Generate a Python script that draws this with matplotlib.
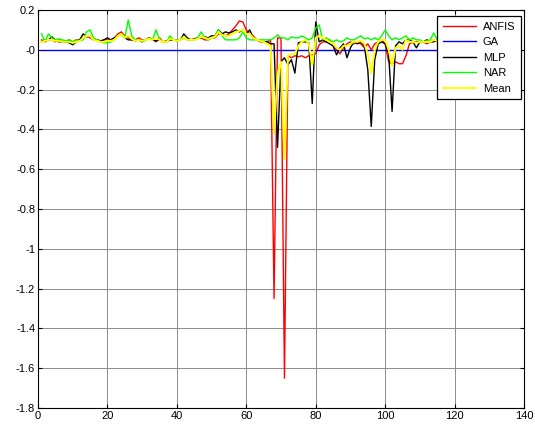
import numpy as np
import matplotlib
matplotlib.use("Agg")
import matplotlib.pyplot as plt
from matplotlib.ticker import FuncFormatter

plt.rcParams['font.family'] = ['Liberation Sans', 'DejaVu Sans']
plt.rcParams['axes.unicode_minus'] = False

# sample index
x = np.arange(1, 119)

anfis = [
    0.05, 0.04, 0.05, 0.05, 0.04, 0.05, 0.04, 0.04, 0.05, 0.04,
    0.05, 0.05, 0.06, 0.07, 0.06, 0.05, 0.05, 0.04, 0.05, 0.05,
    0.05, 0.06, 0.08, 0.09, 0.07, 0.06, 0.05, 0.05, 0.06, 0.05,
    0.05, 0.06, 0.05, 0.04, 0.06, 0.04, 0.04, 0.05, 0.05, 0.05,
    0.05, 0.06, 0.05, 0.05, 0.05, 0.06, 0.06, 0.05, 0.05, 0.06,
    0.06, 0.08, 0.08, 0.07, 0.08, 0.10, 0.12, 0.145, 0.14, 0.10,
    0.08, 0.07, 0.05, 0.04, 0.04, 0.04, 0.05, -1.25, 0.06, 0.06,
    -1.65, -0.03, -0.04, -0.03, -0.035, -0.03, -0.04, -0.03, -0.025, -0.02,
    0.025, 0.04, 0.04, 0.05, 0.02, 0.00, -0.02, 0.01, 0.03, 0.04,
    0.03, 0.04, 0.03, 0.01, 0.03, 0.00, 0.03, 0.04, 0.05, 0.03,
    -0.06, -0.07, -0.06, -0.07, -0.07, -0.03, 0.03, 0.04, 0.04, 0.04,
    0.04, 0.03, 0.04, 0.05, 0.04, 0.04, 0.04, 0.04,
]

ga = [0.0] * 118

mlp = [
    0.04, 0.05, 0.05, 0.065, 0.05, 0.04, 0.04, 0.04, 0.035, 0.025,
    0.04, 0.05, 0.08, 0.065, 0.07, 0.05, 0.05, 0.045, 0.05, 0.06,
    0.05, 0.06, 0.07, 0.08, 0.06, 0.05, 0.05, 0.045, 0.05, 0.04,
    0.05, 0.06, 0.05, 0.045, 0.05, 0.04, 0.045, 0.05, 0.05, 0.045,
    0.05, 0.08, 0.06, 0.05, 0.055, 0.06, 0.06, 0.065, 0.06, 0.07,
    0.07, 0.10, 0.08, 0.09, 0.085, 0.09, 0.10, 0.09, 0.10, 0.08,
    0.10, 0.06, 0.05, 0.045, 0.04, 0.04, 0.03, 0.03, -0.49, -0.06,
    -0.04, -0.075, -0.05, -0.117, 0.035, 0.04, 0.04, 0.035, -0.27, 0.14,
    0.04, 0.05, 0.04, 0.03, 0.02, -0.025, 0.01, 0.03, -0.04, 0.01,
    0.04, 0.03, 0.04, 0.02, -0.10, -0.385, -0.05, 0.03, 0.04, 0.03,
    -0.02, -0.31, 0.02, 0.04, 0.03, 0.05, 0.05, 0.04, 0.01, 0.04,
    0.04, 0.05, 0.04, 0.04, 0.05, 0.05, 0.04, 0.04,
]

nar = [
    0.08, 0.04, 0.08, 0.06, 0.05, 0.055, 0.05, 0.045, 0.05, 0.04,
    0.05, 0.045, 0.05, 0.09, 0.10, 0.06, 0.05, 0.04, 0.035, 0.035,
    0.04, 0.05, 0.07, 0.08, 0.06, 0.15, 0.07, 0.05, 0.05, 0.04,
    0.05, 0.06, 0.05, 0.10, 0.05, 0.04, 0.04, 0.07, 0.05, 0.05,
    0.05, 0.06, 0.05, 0.05, 0.05, 0.06, 0.09, 0.06, 0.05, 0.06,
    0.07, 0.10, 0.07, 0.05, 0.05, 0.05, 0.05, 0.06, 0.09, 0.06,
    0.05, 0.05, 0.05, 0.05, 0.05, 0.05, 0.05, 0.06, 0.075, 0.06,
    0.06, 0.05, 0.065, 0.06, 0.06, 0.07, 0.06, 0.05, 0.06, 0.11,
    0.125, 0.05, 0.06, 0.05, 0.04, 0.05, 0.04, 0.045, 0.06, 0.05,
    0.05, 0.06, 0.07, 0.055, 0.06, 0.05, 0.06, 0.05, 0.07, 0.10,
    0.07, 0.05, 0.06, 0.05, 0.06, 0.07, 0.05, 0.06, 0.05, 0.05,
    0.04, 0.045, 0.05, 0.085, 0.05, 0.04, 0.04, 0.04,
]

mean = [
    0.04, 0.045, 0.05, 0.05, 0.045, 0.045, 0.04, 0.04, 0.04, 0.035,
    0.04, 0.045, 0.06, 0.07, 0.07, 0.05, 0.045, 0.04, 0.04, 0.045,
    0.045, 0.05, 0.07, 0.08, 0.06, 0.07, 0.055, 0.045, 0.05, 0.045,
    0.05, 0.055, 0.05, 0.06, 0.05, 0.04, 0.04, 0.055, 0.05, 0.045,
    0.05, 0.065, 0.05, 0.05, 0.05, 0.055, 0.065, 0.06, 0.055, 0.06,
    0.065, 0.09, 0.075, 0.07, 0.07, 0.08, 0.09, 0.095, 0.10, 0.08,
    0.08, 0.06, 0.05, 0.045, 0.04, 0.03, 0.02, -0.42, -0.12, -0.06,
    -0.55, -0.03, -0.02, -0.02, 0.02, 0.04, 0.05, 0.03, -0.075, 0.06,
    0.07, 0.06, 0.05, 0.04, 0.03, 0.01, 0.00, 0.02, 0.02, 0.03,
    0.04, 0.04, 0.045, 0.03, -0.02, -0.12, 0.00, 0.04, 0.05, 0.05,
    0.00, -0.08, 0.01, 0.02, 0.00, 0.05, 0.04, 0.04, 0.035, 0.04,
    0.04, 0.04, 0.04, 0.05, 0.045, 0.04, 0.04, 0.04,
]

series = [
    ("ANFIS", anfis, "#ff0000", 1.0),
    ("GA", ga, "#0000ff", 1.0),
    ("MLP", mlp, "#000000", 1.0),
    ("NAR", nar, "#00ff00", 1.0),
    ("Mean", mean, "#ffff00", 1.4),
]

fig = plt.figure(figsize=(5.35, 4.25), dpi=100)
ax = fig.add_axes([38 / 535, 1 - 408 / 425, (524 - 38) / 535, (408 - 10) / 425])

for name, vals, col, lw in series:
    ax.plot(x, vals, color=col, lw=lw, label=name)

ax.set_xlim(0, 140)
ax.set_ylim(-1.8, 0.2)
ax.set_xticks(np.arange(0, 141, 20))
ax.set_yticks(np.round(np.arange(-1.8, 0.21, 0.2), 1))
ax.yaxis.set_major_formatter(FuncFormatter(lambda v, p: f"{v:g}"))
ax.grid(True, color="#8c8c8c", lw=0.7, ls="-")
ax.set_axisbelow(True)
ax.tick_params(direction="in", top=True, right=True, labelsize=8, length=3,
               width=0.8, colors="black", pad=2)
for s in ax.spines.values():
    s.set_linewidth(0.8)

leg = ax.legend(loc="upper right", bbox_to_anchor=(1 - 3 / 486, 1 - 6 / 398),
                fontsize=8, fancybox=False, framealpha=1,
                edgecolor="black", handlelength=3.0, labelspacing=0.5,
                borderpad=0.5, handletextpad=0.6, borderaxespad=0.0)
leg.get_frame().set_linewidth(0.9)

fig.savefig("out.png", dpi=100)
